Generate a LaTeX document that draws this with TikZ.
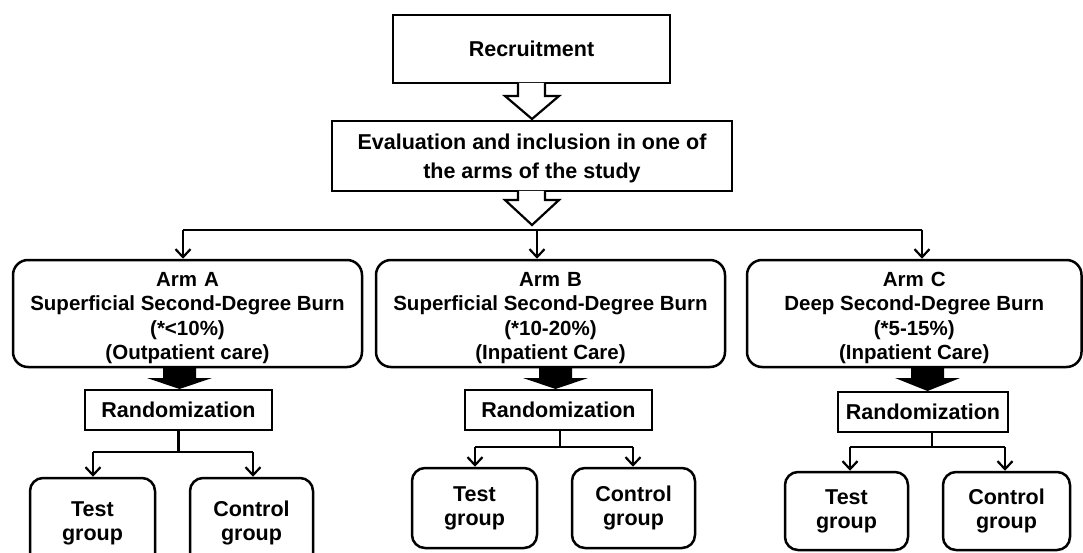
\documentclass[tikz,border=0pt]{standalone}
\usepackage{fontspec}
\setmainfont{Liberation Sans}
\usetikzlibrary{arrows.meta}
\begin{document}
\begin{tikzpicture}[x=1pt,y=-1pt,
  box/.style={draw,line width=2.5pt,align=center,inner sep=0pt,
    font=\bfseries\fontsize{21.5}{29}\selectfont},
  txt/.style={align=center,inner sep=0pt},
  armbox/.style={box,rounded corners=15pt,minimum height=107pt},
  armtxt/.style={txt,font=\bfseries\fontsize{20.5}{24.5}\selectfont},
  evaltxt/.style={txt,font=\bfseries\fontsize{21.5}{29}\selectfont},
  grpbox/.style={box,rounded corners=13pt,minimum height=80pt,
    font=\bfseries\fontsize{21.5}{24}\selectfont},
  randbox/.style={box,minimum height=40pt},
  hollow/.style={draw,line width=2.2pt,fill=white,line join=miter},
  conn/.style={line width=2.2pt,-{Straight Barb[length=8pt,width=15pt,line width=2.2pt]}},
  plain/.style={line width=2.2pt}]
\useasboundingbox (0,0) rectangle (1083,553);
\clip (0,0) rectangle (1083,553);

% top boxes
\node[box,minimum width=277pt,minimum height=68pt] (rec) at (531.5,49) {Recruitment};
\node[box,minimum width=400pt,minimum height=70pt] (eval) at (532,156) {};
\node[evaltxt] (evalT) at ([yshift=-2.5pt]eval.center)
  {Evaluation and inclusion in one of\\the arms of the study};

% hollow arrows
\draw[hollow] (518,83) -- (518,96) -- (505,96) -- (532,119) -- (559,96) -- (545,96) -- (545,83);
\draw[hollow] (518,191) -- (518,200) -- (505,200) -- (532,225) -- (559,200) -- (545,200) -- (545,191);

% arms
\node[armbox,minimum width=349pt] (armA) at (187.5,313.5) {};
\node[armbox,minimum width=349pt] (armB) at (550.5,313.5) {};
\node[armbox,minimum width=334.5pt] (armC) at (914.25,313.5) {};
\node[armtxt] (armAT) at ([yshift=-4.5pt]armA.center)
  {Arm\,\,A\\Superficial Second-Degree Burn\\(*<10\%)\\(Outpatient care)};
\node[armtxt] (armBT) at ([yshift=-4.5pt]armB.center)
  {Arm\,\,B\\Superficial Second-Degree Burn\\(*10-20\%)\\(Inpatient Care)};
\node[armtxt] (armCT) at ([yshift=-4.5pt]armC.center)
  {Arm\,\,C\\Deep Second-Degree Burn\\(*5-15\%)\\(Inpatient Care)};

% branching from evaluation
\coordinate (jL) at (183,230);
\coordinate (jM) at (537,230);
\coordinate (jR) at (922,230);
\draw[plain] (jL) -- (jR);
\draw[conn] (jL) -- (jL |- armA.north);
\draw[conn] (jM) -- (jM |- armB.north);
\draw[conn] (jR) -- (jR |- armC.north);

% randomization boxes
\node[randbox,minimum width=187pt] (randA) at (178.5,410) {Randomization};
\node[randbox,minimum width=187pt] (randB) at (558.5,410) {Randomization};
\node[randbox,minimum width=170pt] (randC) at (923,412) {Randomization};

% black block arrows
\fill (163,367) -- (163,378) -- (147,378) -- (179.5,389) -- (212,378) -- (196,378) -- (196,367) -- cycle;
\fill (539,367) -- (539,378) -- (523,378) -- (555.5,389) -- (588,378) -- (572,378) -- (572,367) -- cycle;
\fill (911,367) -- (911,378) -- (895,378) -- (927.5,391) -- (960,378) -- (944,378) -- (944,367) -- cycle;

% group boxes
\node[grpbox,minimum width=125pt,minimum height=90pt] (testA) at (92.5,523) {Test\\group};
\node[grpbox,minimum width=123pt,minimum height=90pt] (ctrlA) at (251.5,523) {Control\\group};
\node[grpbox,minimum width=125pt] (testB) at (474.5,508) {Test\\group};
\node[grpbox,minimum width=123pt] (ctrlB) at (633.5,508) {Control\\group};
\node[grpbox,minimum width=123pt,minimum height=78pt] (testC) at (846.5,511) {Test\\group};
\node[grpbox,minimum width=127pt,minimum height=78pt] (ctrlC) at (1006.5,511) {Control\\group};

% randomization splits
\coordinate (sA) at (178.5,452);
\coordinate (sB) at (560,447);
\coordinate (sC) at (932,447);
\coordinate (aL) at (93,452);   \coordinate (aR) at (253,452);
\coordinate (bL) at (475,447);  \coordinate (bR) at (633,447);
\coordinate (cL) at (850,447);  \coordinate (cR) at (1005,447);
\draw[plain] (randA.south) -- (sA);
\draw[plain] (randB.south -| sB) -- (sB);
\draw[plain] (randC.south -| sC) -- (sC);
\draw[plain] (aL) -- (aR);
\draw[plain] (bL) -- (bR);
\draw[plain] (cL) -- (cR);
\draw[conn] (aL) -- (aL |- testA.north);
\draw[conn] (aR) -- (aR |- ctrlA.north);
\draw[conn] (bL) -- (bL |- testB.north);
\draw[conn] (bR) -- (bR |- ctrlB.north);
\draw[conn] (cL) -- (cL |- testC.north);
\draw[conn] (cR) -- (cR |- ctrlC.north);
\end{tikzpicture}
\end{document}
